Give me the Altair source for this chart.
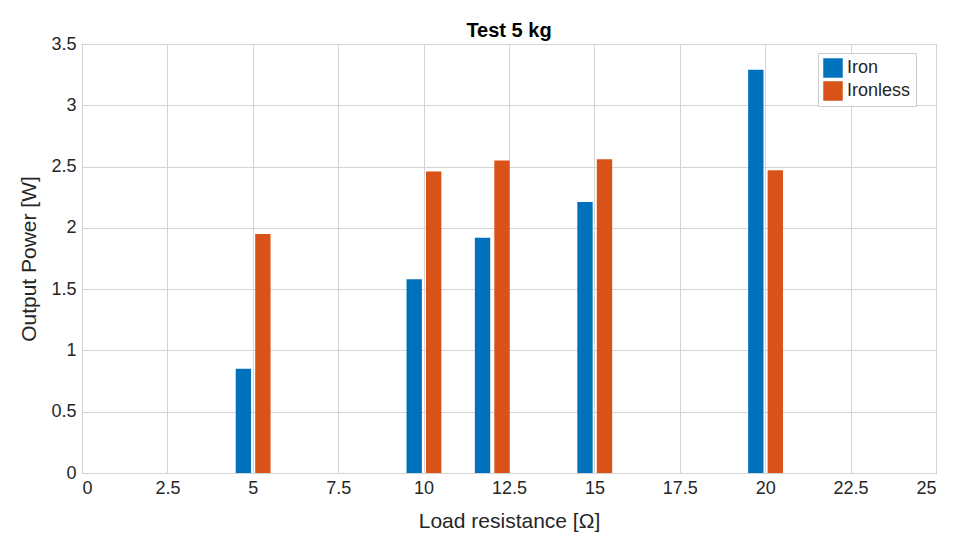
import altair as alt
import pandas as pd

resistance = [5, 10, 12, 15, 20]
iron = [0.85, 1.58, 1.92, 2.21, 3.29]
ironless = [1.95, 2.46, 2.55, 2.56, 2.47]
series = ["Iron", "Ironless"]
colors = ["#0072BD", "#D95319"]
x_ticks = [0, 2.5, 5, 7.5, 10, 12.5, 15, 17.5, 20, 22.5, 25]
y_ticks = [0, 0.5, 1, 1.5, 2, 2.5, 3, 3.5]

rows = []
for r, a, b in zip(resistance, iron, ironless):
    rows.append({"R": r, "series": "Iron", "P": a, "x0": r - 0.50, "x1": r - 0.05})
    rows.append({"R": r, "series": "Ironless", "P": b, "x0": r + 0.07, "x1": r + 0.52})
df = pd.DataFrame(rows)

font = "Liberation Sans"

bars = alt.Chart(df).mark_rect().encode(
    x=alt.X("x0:Q", scale=alt.Scale(domain=[0, 25], nice=False, zero=False),
            axis=alt.Axis(values=x_ticks, labelExpr="toString(datum.value)",
                          title="Load resistance [Ω]")),
    x2="x1:Q",
    y=alt.Y("P:Q", scale=alt.Scale(domain=[0, 3.5], nice=False),
            axis=alt.Axis(values=y_ticks, labelExpr="toString(datum.value)",
                          title="Output Power [W]")),
    y2=alt.datum(0),
    color=alt.Color("series:N", scale=alt.Scale(domain=series, range=colors),
                    legend=alt.Legend(title=None, orient="none", legendX=736, legendY=9,
                                      fillColor="white", strokeColor="#cccccc",
                                      padding=5, symbolType="square", symbolSize=380,
                                      symbolStrokeWidth=0, labelFontSize=18,
                                      labelFont=font, labelColor="#262626",
                                      rowPadding=3, symbolOffset=0, labelOffset=4)),
)

chart = bars.properties(
    width=854, height=429,
    title=alt.TitleParams("Test 5 kg", font=font, fontSize=20, fontWeight="bold",
                          color="#000000", offset=-6),
    autosize=alt.AutoSizeParams(type="none"),
    padding={"left": 82, "top": 44, "right": 21, "bottom": 70},
).configure_view(
    stroke="#8c8c8c", strokeWidth=1
).configure_axis(
    grid=True, gridColor="#d4d4d4", gridWidth=1, domain=False, ticks=False,
    labelFont=font, labelFontSize=18, labelColor="#262626",
    titleFont=font, titleFontSize=21, titleColor="#262626", titleFontWeight="normal",
    labelPadding=6,
).configure_axisY(titlePadding=11).configure_axisX(titlePadding=13)

chart.save("out.html", embed_options={"renderer": "svg", "actions": False})
